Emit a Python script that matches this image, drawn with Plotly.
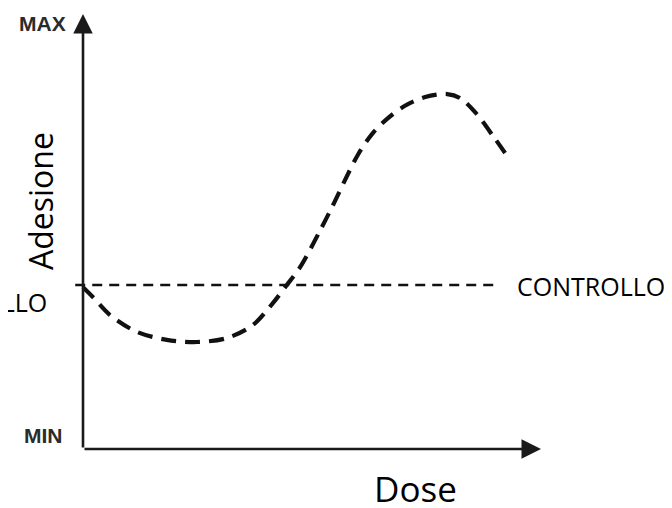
# Curva dosis-respuesta: adhesión vs dosis, con nivel de control

import plotly.graph_objects as go

# ----------------------------- Datos -----------------------------

dose = [0.00, 0.22, 0.59, 1.18, 1.83, 2.49, 3.14, 3.71, 4.15, 4.45, 4.74, 5.18,
        5.46, 5.72, 6.00, 6.31, 6.64, 7.03, 7.47, 7.95, 8.23, 8.58, 8.97, 9.28]
adesione = [3.72, 3.49, 3.08, 2.69, 2.51, 2.46, 2.55, 2.85, 3.36, 3.77, 4.18, 5.03,
            5.61, 6.18, 6.76, 7.24, 7.59, 7.89, 8.09, 8.16, 8.07, 7.72, 7.17, 6.71]

controllo_x = [-0.17, 9.0]
controllo_y = [3.77, 3.77]

asse_max = 10      # MAX / fine asse
asse_min = 0       # MIN

# ----------------------------- Figura -----------------------------

fig = go.Figure()

# Linea di controllo
fig.add_trace(
    go.Scatter(x = controllo_x, y = controllo_y, mode = 'lines',
               line = dict(color = '#111111', width = 2.6, dash = '10px,7px'),
               hoverinfo = 'skip')
)

# Curva di adesione
fig.add_trace(
    go.Scatter(x = dose, y = adesione, mode = 'lines',
               line = dict(color = '#111111', width = 4.2, dash = '15px,9px', shape = 'spline', smoothing = 0.9),
               hoverinfo = 'skip')
)

# Assi con freccia
frecce = [
    dict(x = asse_max, y = asse_min, ax = asse_min, ay = asse_min),
    dict(x = asse_min, y = asse_max, ax = asse_min, ay = asse_min),
]
annot = []
for f in frecce:
    annot.append(dict(x = f['x'], y = f['y'], ax = f['ax'], ay = f['ay'],
                      xref = 'x', yref = 'y', axref = 'x', ayref = 'y',
                      text = '', showarrow = True, arrowhead = 2, arrowsize = 1.5,
                      arrowwidth = 2.6, arrowcolor = '#1a1a1a'))

# Testi
txt_calibri = dict(family = 'Open Sans', color = '#000000')
annot += [
    dict(x = -0.33, y = 9.79, text = '<b>MAX</b>', showarrow = False, xanchor = 'right',
         font = dict(family = 'Liberation Sans', size = 21, color = '#2b2b2b')),
    dict(x = -0.39, y = 0.32, text = '<b>MIN</b>', showarrow = False, xanchor = 'right',
         font = dict(family = 'Liberation Sans', size = 21, color = '#2b2b2b')),
    dict(x = -0.94, y = 5.70, text = 'Adesione', showarrow = False, textangle = -90,
         font = dict(size = 32, **txt_calibri)),
    dict(x = 7.27, y = -0.90, text = 'Dose', showarrow = False,
         font = dict(size = 35, **txt_calibri)),
    dict(x = 9.43, y = 3.75, text = 'CONTROLLO', showarrow = False, xanchor = 'left',
         font = dict(size = 25, **txt_calibri)),
    dict(x = -0.74, y = 3.38, text = 'CONTROLLO', showarrow = False, xanchor = 'right',
         font = dict(size = 25, **txt_calibri)),
]

# La pagina aggiunge ~8px di margine: gli intervalli lo compensano
fig.update_layout(
    width = 672, height = 508, autosize = False,
    margin = dict(l = 0, r = 0, t = 0, b = 0),
    template = 'simple_white',
    showlegend = False,
    plot_bgcolor = 'white', paper_bgcolor = 'white',
    xaxis = dict(range = [-1.6376, 13.0349], visible = False),
    yaxis = dict(range = [-1.540, 10.138], visible = False),
    annotations = annot)

fig.write_html("out.html")
